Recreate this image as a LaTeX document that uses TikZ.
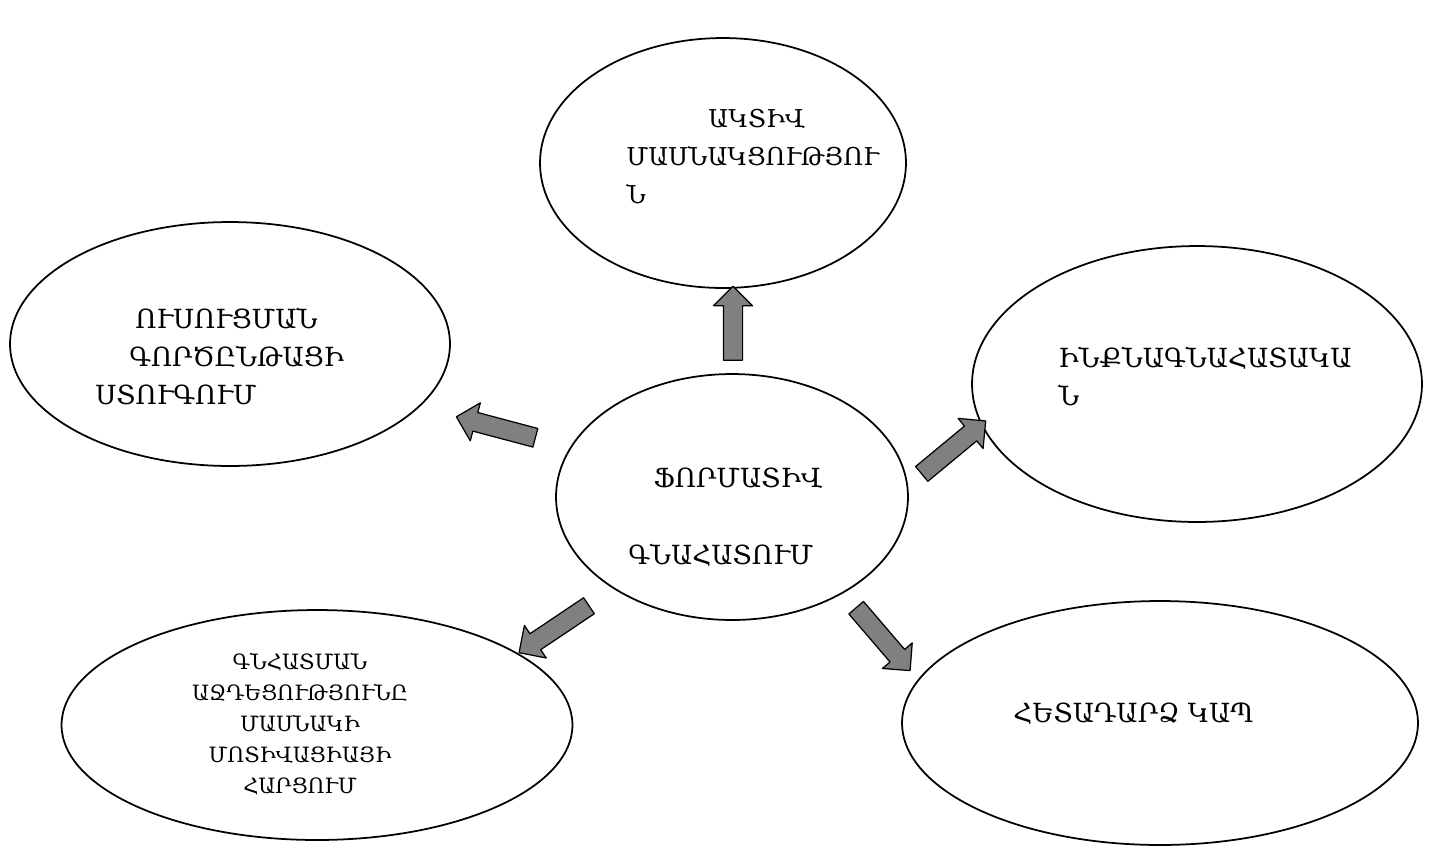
\documentclass[tikz,border=0pt]{standalone}
\usepackage{fontspec}
\setmainfont{DejaVu Serif}
\usetikzlibrary{shapes.geometric,shapes.arrows,calc}
\begin{document}
\begin{tikzpicture}[x=0.02cm,y=-0.02cm,line join=round]
    \tikzset{bubble/.style={ellipse,draw,line width=1pt,inner sep=0pt},
             big text/.style={font=\fontsize{15}{21.6}\selectfont,inner sep=0pt,anchor=north west,align=left},
             small text/.style={font=\fontsize{12}{17.6}\selectfont,inner sep=0pt,anchor=north,align=center},
             fat arrow/.style={single arrow,draw,line width=0.7pt,fill=gray,inner sep=0.18cm,
                               single arrow head extend=0.2cm}}
    \def\blockarrow#1#2{\path let \p1=($(#2)-(#1)$) in
        node[fat arrow,rotate={atan2(\y1,\x1)},minimum height={veclen(\x1,\y1)}] at ($(#1)!.5!(#2)$) {};}
    \useasboundingbox (0,0) rectangle (1431,850);
    \node[bubble,minimum width=7.04cm,minimum height=4.92cm] (form) at (732,497) {};
    \node[bubble,minimum width=7.32cm,minimum height=5cm] (akt) at (723,163) {};
    \node[bubble,minimum width=8.8cm,minimum height=4.88cm] (ustr) at (230,344) {};
    \node[bubble,minimum width=9cm,minimum height=5.52cm] (inqn) at (1197,384) {};
    \node[bubble,minimum width=10.22cm,minimum height=4.6cm] (gnah) at (317,725) {};
    \node[bubble,minimum width=10.32cm,minimum height=4.88cm] (het) at (1160,723) {};
    \node[big text] (form text) at (628,468) {\hspace*{0.5cm}ՖՈՐՄԱՏԻՎ\\[22pt]ԳՆԱՀԱՏՈՒՄ};
    \node[big text,font=\fontsize{14}{21.6}\selectfont] (akt text) at (626,109) {\hspace*{1.64cm}ԱԿՏԻՎ\\ՄԱՍՆԱԿՑՈՒԹՅՈՒ\\Ն};
    \node[big text] (ustr text) at (95,308) {\hspace*{0.8cm}ՈՒՍՈՒՑՄԱՆ\\\hspace*{0.68cm}ԳՈՐԾԸՆԹԱՑԻ\\ՍՏՈՒԳՈՒՄ};
    \node[big text] (inqn text) at (1058,347) {ԻՆՔՆԱԳՆԱՀԱՏԱԿԱ\\Ն};
    \node[small text] (gnah text) at (300,653) {ԳՆՀԱՏՄԱՆ\\ԱՋԴԵՑՈՒԹՅՈՒՆԸ\\ՄԱՍՆԱԿԻ\\ՄՈՏԻՎԱՑԻԱՅԻ\\ՀԱՐՑՈՒՄ};
    \node[big text] (het text) at (1013,703) {ՀԵՏԱԴԱՐՁ ԿԱՊ};
    \coordinate (up a) at (733,365);
    \coordinate (up b) at (733,291);
    \coordinate (lt a) at (540,439);
    \coordinate (lt b) at (461,418);
    \coordinate (rt a) at (918,477);
    \coordinate (rt b) at (982,424);
    \coordinate (dl a) at (593,603);
    \coordinate (dl b) at (523,650);
    \coordinate (dr a) at (853,604);
    \coordinate (dr b) at (907,667);
    \blockarrow{up a}{up b}
    \blockarrow{lt a}{lt b}
    \blockarrow{rt a}{rt b}
    \blockarrow{dl a}{dl b}
    \blockarrow{dr a}{dr b}
\end{tikzpicture}
\end{document}
